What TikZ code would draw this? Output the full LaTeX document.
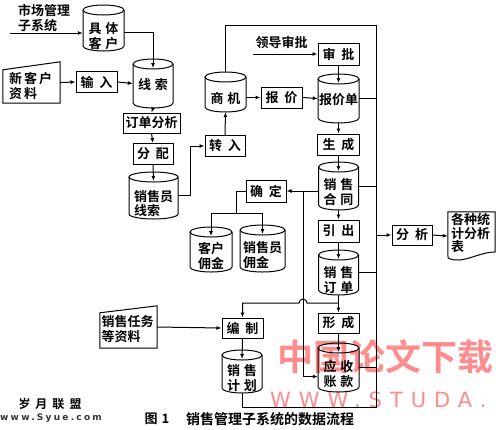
\documentclass[tikz,border=0pt]{standalone}
\usepackage{fontspec}
\newfontfamily\cjk{Noto Sans CJK SC}[BoldFont=* Bold]
\newfontfamily\wmfont{DejaVu Sans}[LetterSpace=25]
\newfontfamily\wmbig{DejaVu Sans}[LetterSpace=38]
\usetikzlibrary{arrows.meta,calc}
\newcommand\chgap{\hspace{4pt}}
\newcommand\bxgap{\hspace{6pt}}
\newcommand\dbcyl[7]{%
  \node[cylbox, minimum width=#4pt, minimum height=#5pt] (#1) at (#2,#3) {};
  \pgfmathsetmacro\cylrx{#4/2}%
  \pgfmathsetmacro\cylty{#3-#5/2+5}%
  \pgfmathsetmacro\cylby{#3+#5/2-5}%
  \pgfmathsetmacro\cyltip{#3-#5/2+9}%
  \draw[ln] (#2,\cylty) ellipse[x radius=\cylrx pt, y radius=5pt];
  \draw[ln] (#2-\cylrx,\cylty) -- (#2-\cylrx,\cylby) arc[start angle=180, end angle=360, x radius=\cylrx pt, y radius=5pt] -- (#2+\cylrx,\cylty);
  \coordinate (#1-top) at (#2,\cyltip);
  \node[cyltxt] (#1-txt) at (#2,#7) {#6};
}
\begin{document}
\begin{tikzpicture}[x=1pt,y=-1pt,
  ln/.style={line width=1pt},
  arr/.style={line width=1pt,-{Latex[length=5pt,width=4pt]}},
  procbox/.style={draw,line width=1pt,inner sep=0pt,minimum height=21pt,font=\cjk\bfseries\fontsize{13}{15}\selectfont},
  cylbox/.style={inner sep=0pt},
  cyltxt/.style={inner sep=0pt,align=left,font=\cjk\bfseries\fontsize{13}{14.5}\selectfont},
  lbl/.style={inner sep=0pt,align=left,font=\cjk\bfseries\fontsize{13}{15}\selectfont},
  wm/.style={inner sep=0pt,text=red!45!white},
]
\useasboundingbox (0,0) rectangle (500,429);
% watermarks
\node[wm,font=\cjk\bfseries\fontsize{36}{38}\selectfont] (wm1) at (385,357) {中国论文下载};
\node[wm,font=\wmbig\fontsize{21}{23}\selectfont,anchor=west] (wm2) at (270,400) {WWW.STUDA.};
\node[inner sep=0pt,font=\cjk\bfseries\fontsize{12}{14}\selectfont] (wm3) at (50,404) {岁\hspace{5pt}月\hspace{5pt}联\hspace{5pt}盟};
\node[inner sep=0pt,font=\wmfont\bfseries\fontsize{9}{11}\selectfont,text=black!80] (wm4) at (51,418) {www.Syue.com};

% free labels
\node[lbl,anchor=west] (mktxt) at (18,18.5) {市场管理\\子系统};
\node[lbl] (ldtxt) at (281.5,43) {领导审批};

% cylinders
\dbcyl{jtkh}{103.5}{28}{41}{46}{具\chgap 体\\客\chgap 户}{36}
\dbcyl{xs}{153}{83.5}{40}{49}{线\chgap 索}{85}
\dbcyl{sj}{225.5}{92}{41}{40}{商\chgap 机}{99}
\dbcyl{bjd}{338.5}{98.5}{41}{49}{报价单}{100}
\dbcyl{xsyxs}{153.5}{195.5}{49}{47}{销售员\\线索}{203.5}
\dbcyl{xsht}{338.5}{186}{40}{48}{销\chgap 售\\合\chgap 同}{192}
\dbcyl{khyj}{211}{249.5}{42}{45}{客户\\佣金}{256}
\dbcyl{xsyyj}{262.5}{248.5}{45}{47}{销售员\\佣金}{255}
\dbcyl{xsdd}{338.5}{272.5}{40}{45}{销\chgap 售\\订\chgap 单}{280}
\dbcyl{yszk}{338.5}{367.5}{41}{49}{应\chgap 收\\账\chgap 款}{374}
\dbcyl{xsjh}{242}{371.5}{40}{43}{销\chgap 售\\计\chgap 划}{378}

% process boxes
\node[procbox,minimum width=41pt] (sr) at (96.5,82) {输\bxgap 入};
\node[procbox,minimum width=57pt,minimum height=20pt] (ddfx) at (151.5,123) {订单分析};
\node[procbox,minimum width=40pt] (fp) at (153,154) {分\bxgap 配};
\node[procbox,minimum width=40pt] (zr) at (225,146) {转\bxgap 入};
\node[procbox,minimum width=41pt] (bj) at (281.5,97.5) {报\bxgap 价};
\node[procbox,minimum width=41pt,minimum height=22pt] (sp) at (338.5,54) {审\bxgap 批};
\node[procbox,minimum width=42pt] (sc) at (338.5,144.5) {生\bxgap 成};
\node[procbox,minimum width=40pt,minimum height=22pt] (qd) at (266,191) {确\bxgap 定};
\node[procbox,minimum width=41pt,minimum height=22pt] (yc) at (338.5,231) {引\bxgap 出};
\node[procbox,minimum width=41pt,minimum height=20pt] (xc) at (338.5,323) {形\bxgap 成};
\node[procbox,minimum width=41pt,minimum height=20pt] (bz) at (242.5,328) {编\bxgap 制};
\node[procbox,minimum width=40pt,minimum height=20pt] (fx) at (412,235) {分\bxgap 析};

% manual inputs
\node[inner sep=0pt,minimum width=57pt,minimum height=41pt] (nk) at (31.5,82.5) {};
\draw[ln] (nk.south west) -- (nk.south east) -- (nk.north east) -- ($(nk.north west)+(0,8)$) -- cycle;
\node[lbl,anchor=west] (nktxt) at (9,85.5) {新\hspace{2pt}客\hspace{2pt}户\\资\hspace{2pt}料};
\node[inner sep=0pt,minimum width=57pt,minimum height=42pt] (xr) at (128.5,327) {};
\draw[ln] (xr.south west) -- (xr.south east) -- (xr.north east) -- ($(xr.north west)+(0,7)$) -- cycle;
\node[lbl,anchor=west] (xrtxt) at (101.5,329) {销售任务\\等资料};

% document
\node[inner sep=0pt,minimum width=47pt,minimum height=48pt] (doc) at (471.5,236) {};
\draw[ln] (doc.north west) -- (doc.north east) -- (495,252) .. controls (478,252) and (462,265) .. (448,258) -- cycle;
\node[lbl,anchor=west,font=\cjk\bfseries\fontsize{13}{13.5}\selectfont] (doctxt) at (451,233) {各种统\\计分析\\表};

% caption
\node[inner sep=0pt,font=\cjk\bfseries\fontsize{13}{15}\selectfont] (cap1) at (157,419) {图\hspace{4pt}1};
\node[inner sep=0pt,font=\cjk\bfseries\fontsize{14}{16}\selectfont] (cap2) at (270,419) {销售管理子系统的数据流程};

% connectors
\coordinate (mkin) at (10,33);
\draw[arr] (mkin) -- (mkin -| jtkh.west);
\draw[arr] ($(jtkh.east)+(0,4)$) -| (xs-top);
\draw[arr] (nk.east) -- (sr.west);
\draw[arr] (sr.east) -- (xs.west);
\draw[arr] (xs.south) -- (ddfx.north);
\draw[arr] (ddfx.south) -- (fp.north);
\draw[arr] (fp.south) -- (xsyxs-top);
\draw[arr] (xsyxs.east) -- ++(12,0) |- (zr.west);
\draw[arr] (zr.north) -- (sj.south);
\draw[arr] (sj.east |- bj.west) -- (bj.west);
\draw[arr] (bj.east) -- (bjd.west);

\coordinate (ldin) at (253,54);
\draw[arr] (ldin) -- (sp.west);
\draw[arr] (sp.south) -- (bjd-top);
\draw[arr] (bjd.south) -- (sc.north);
\draw[arr] (sc.south) -- (xsht-top);
\draw[arr] (xsht.south) -- (yc.north);
\draw[arr] (yc.south) -- (xsdd-top);
\draw[arr] (xsdd.south) -- (xc.north);
\draw[arr] (xc.south) -- (yszk-top);

% bus
\coordinate (bustop) at (376,25);
\coordinate (busbot) at (376,407);
\draw[ln] (sj.north) |- (bustop) -- (busbot) -| (xsjh.south);
\draw[ln] (bjd.east) -- (bjd.east -| bustop);
\draw[ln] (xsht.east) -- (xsht.east -| bustop);
\draw[ln] (xsdd.east) -- (xsdd.east -| bustop);
\draw[ln] (yszk.east) -- (yszk.east -| bustop);
\draw[arr] (fx.west -| bustop) -- (fx.west);
\draw[arr] (fx.east) -- (doc.west);

% contract to confirm and receivables
\coordinate (vx) at (303,191);
\draw[arr] (qd.east -| xsht.west) -- (qd.east);
\draw[arr] (vx) |- ($(yszk.west)+(0,9)$);
\coordinate (spl) at (236,213);
\draw[ln] (qd.west) -| (spl);
\draw[arr] (spl) -| (khyj-top);
\draw[arr] (spl) -| (xsyyj-top);

% order to plan, with hop
\coordinate (jn) at (338.5,303);
\draw[arr] (jn) -- (307,303) arc[start angle=0,end angle=180,radius=4pt] -| (bz.north);
\draw[arr] (xr.east) -- (bz.west);
\draw[arr] (bz.south) -- (xsjh-top);
\end{tikzpicture}
\end{document}
